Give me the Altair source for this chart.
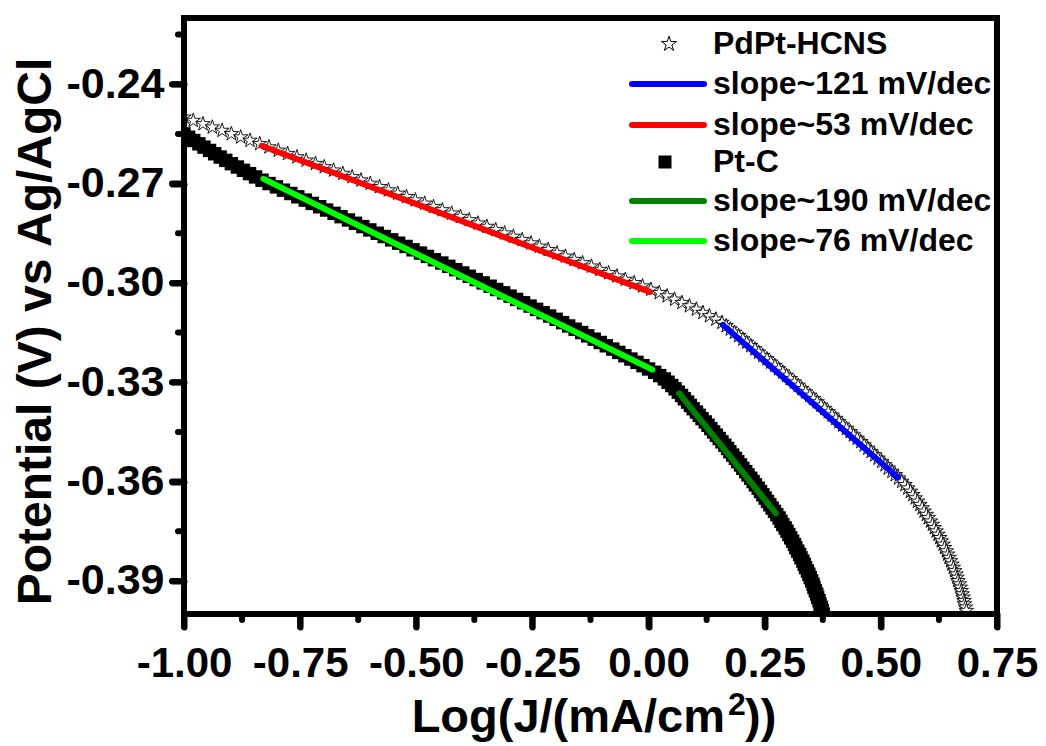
import altair as alt
import pandas as pd

# ---------------- data ----------------
# PdPt-HCNS polarisation curve: potential (mV vs Ag/AgCl) and log J
PDPT_E_MV = [
    -250, -251, -252, -253, -254, -255, -256, -257, -258, -259,
    -260, -261, -262, -263, -264, -265, -266, -267, -268, -269,
    -270, -271, -272, -273, -274, -275, -276, -277, -278, -279,
    -280, -281, -282, -283, -284, -285, -286, -287, -288, -289,
    -290, -291, -292, -293, -294, -295, -296, -297, -298, -299,
    -300, -301, -302, -303, -304, -305, -306, -307, -308, -309,
    -310, -311, -312, -313, -314, -315, -316, -317, -318, -319,
    -320, -321, -322, -323, -324, -325, -326, -327, -328, -329,
    -330, -331, -332, -333, -334, -335, -336, -337, -338, -339,
    -340, -341, -342, -343, -344, -345, -346, -347, -348, -349,
    -350, -351, -352, -353, -354, -355, -356, -357, -358, -359,
    -360, -361, -362, -363, -364, -365, -366, -367, -368, -369,
    -370, -371, -372, -373, -374, -375, -376, -377, -378, -379,
    -380, -381, -382, -383, -384, -385, -386, -387, -388, -389,
    -390, -391, -392, -393, -394, -395, -396, -397, -398, -399,
]
PDPT_LOGJ = [
    -1.000, -0.980, -0.959, -0.939, -0.918, -0.898, -0.878, -0.858, -0.837, -0.817,
    -0.797, -0.777, -0.757, -0.737, -0.717, -0.698, -0.678, -0.658, -0.638, -0.619,
    -0.599, -0.579, -0.560, -0.540, -0.521, -0.502, -0.482, -0.463, -0.444, -0.424,
    -0.405, -0.386, -0.367, -0.348, -0.329, -0.310, -0.291, -0.272, -0.253, -0.235,
    -0.216, -0.197, -0.179, -0.160, -0.142, -0.123, -0.105, -0.086, -0.068, -0.050,
    -0.031, -0.013, 0.005, 0.023, 0.040, 0.056, 0.072, 0.088, 0.103, 0.117,
    0.131, 0.145, 0.158, 0.167, 0.176, 0.185, 0.194, 0.203, 0.211, 0.220,
    0.229, 0.237, 0.246, 0.255, 0.263, 0.272, 0.280, 0.289, 0.297, 0.305,
    0.314, 0.322, 0.330, 0.338, 0.347, 0.355, 0.363, 0.371, 0.379, 0.387,
    0.395, 0.403, 0.410, 0.418, 0.426, 0.434, 0.441, 0.449, 0.457, 0.464,
    0.472, 0.479, 0.487, 0.494, 0.502, 0.509, 0.516, 0.524, 0.531, 0.538,
    0.545, 0.552, 0.558, 0.564, 0.569, 0.574, 0.579, 0.584, 0.589, 0.593,
    0.598, 0.602, 0.607, 0.611, 0.615, 0.619, 0.623, 0.627, 0.630, 0.634,
    0.637, 0.641, 0.644, 0.647, 0.650, 0.653, 0.656, 0.659, 0.662, 0.664,
    0.666, 0.669, 0.671, 0.673, 0.675, 0.677, 0.679, 0.680, 0.682, 0.684,
]

# Pt-C polarisation curve
PTC_E_MV = [
    -255, -256, -257, -258, -259, -260, -261, -262, -263, -264,
    -265, -266, -267, -268, -269, -270, -271, -272, -273, -274,
    -275, -276, -277, -278, -279, -280, -281, -282, -283, -284,
    -285, -286, -287, -288, -289, -290, -291, -292, -293, -294,
    -295, -296, -297, -298, -299, -300, -301, -302, -303, -304,
    -305, -306, -307, -308, -309, -310, -311, -312, -313, -314,
    -315, -316, -317, -318, -319, -320, -321, -322, -323, -324,
    -325, -326, -327, -328, -329, -330, -331, -332, -333, -334,
    -335, -336, -337, -338, -339, -340, -341, -342, -343, -344,
    -345, -346, -347, -348, -349, -350, -351, -352, -353, -354,
    -355, -356, -357, -358, -359, -360, -361, -362, -363, -364,
    -365, -366, -367, -368, -369, -370, -371, -372, -373, -374,
    -375, -376, -377, -378, -379, -380, -381, -382, -383, -384,
    -385, -386, -387, -388, -389, -390, -391, -392, -393, -394,
    -395, -396, -397, -398, -399, -400,
]
PTC_LOGJ = [
    -1.000, -0.990, -0.979, -0.968, -0.957, -0.945, -0.934, -0.922, -0.910, -0.898,
    -0.885, -0.872, -0.859, -0.846, -0.832, -0.817, -0.801, -0.786, -0.770, -0.755,
    -0.739, -0.724, -0.708, -0.693, -0.677, -0.662, -0.646, -0.631, -0.615, -0.600,
    -0.584, -0.569, -0.553, -0.538, -0.522, -0.507, -0.491, -0.476, -0.461, -0.445,
    -0.430, -0.415, -0.400, -0.386, -0.371, -0.356, -0.341, -0.327, -0.312, -0.298,
    -0.284, -0.269, -0.255, -0.241, -0.227, -0.213, -0.199, -0.185, -0.172, -0.158,
    -0.144, -0.131, -0.117, -0.104, -0.091, -0.077, -0.064, -0.051, -0.038, -0.025,
    -0.012, 0.000, 0.013, 0.024, 0.034, 0.042, 0.050, 0.057, 0.064, 0.071,
    0.077, 0.084, 0.090, 0.096, 0.103, 0.109, 0.115, 0.122, 0.128, 0.134,
    0.140, 0.146, 0.152, 0.158, 0.164, 0.170, 0.175, 0.181, 0.187, 0.192,
    0.198, 0.203, 0.209, 0.214, 0.220, 0.225, 0.230, 0.236, 0.241, 0.246,
    0.251, 0.256, 0.261, 0.266, 0.271, 0.276, 0.281, 0.285, 0.289, 0.294,
    0.298, 0.302, 0.306, 0.310, 0.314, 0.317, 0.321, 0.325, 0.328, 0.332,
    0.335, 0.338, 0.342, 0.345, 0.348, 0.351, 0.354, 0.356, 0.359, 0.362,
    0.364, 0.367, 0.369, 0.372, 0.374, 0.376,
]

# Tafel fit segments
FIT_LABELS = ["slope~121 mV/dec", "slope~53 mV/dec", "slope~190 mV/dec", "slope~76 mV/dec"]
FIT_LOGJ_START = [0.160, -0.833, 0.066, -0.829]
FIT_LOGJ_END = [0.537, 0.003, 0.274, 0.008]
FIT_E_START = [-0.3127, -0.2586, -0.3334, -0.2686]
FIT_E_END = [-0.3588, -0.3027, -0.3696, -0.3262]
FIT_COLORS = ["#0000ff", "#ff0000", "#008000", "#00ff00"]

X_TICKS = [-1.0, -0.75, -0.5, -0.25, 0.0, 0.25, 0.5, 0.75]
X_MINOR = [-0.875, -0.625, -0.375, -0.125, 0.125, 0.375, 0.625]
Y_TICKS = [-0.39, -0.36, -0.33, -0.30, -0.27, -0.24]
Y_MINOR = [-0.375, -0.345, -0.315, -0.285, -0.255, -0.225]

LEGEND_LABELS = ["PdPt-HCNS", "slope~121 mV/dec", "slope~53 mV/dec",
                 "Pt-C", "slope~190 mV/dec", "slope~76 mV/dec"]
LEGEND_KINDS = ["star", "line", "line", "square", "line", "line"]
LEGEND_COLORS = ["black", "#0000ff", "#ff0000", "black", "#008000", "#00ff00"]

X_TITLE_MAIN = "Log(J/(mA/cm"
X_TITLE_SUP = "2"
X_TITLE_END = "))"
Y_TITLE = "Potential (V) vs Ag/AgCl"

# ---------------- layout / style ----------------
W, H = 813, 596
FONT = "Liberation Sans"
STAR = ("M0,-1L0.225,-0.309L0.951,-0.309L0.363,0.118L0.588,0.809L0,0.382"
        "L-0.588,0.809L-0.363,0.118L-0.951,-0.309L-0.225,-0.309Z")
LEG_ROWS = [26, 66, 107, 144, 183, 223]

pdpt = pd.DataFrame({"logJ": PDPT_LOGJ, "E": [v / 1000 for v in PDPT_E_MV]})
ptc = pd.DataFrame({"logJ": PTC_LOGJ, "E": [v / 1000 for v in PTC_E_MV]})
fits = pd.DataFrame({"fit": FIT_LABELS, "logJ": FIT_LOGJ_START, "logJ2": FIT_LOGJ_END,
                     "E": FIT_E_START, "E2": FIT_E_END})
one = pd.DataFrame({"k": [0]})

xscale = alt.Scale(domain=[-1.0, 0.75], nice=False, zero=False)
yscale = alt.Scale(domain=[-0.40, -0.22], nice=False, zero=False)
label_expr = "(datum.value < 0 ? '-' : '') + format(abs(datum.value), '.2f')"

x_axis = alt.Axis(values=X_TICKS, labelExpr=label_expr, title="", domain=False, grid=False,
                  tickSize=13, tickWidth=6, tickColor="black", tickCap="round",
                  labelFont=FONT, labelFontSize=42, labelFontWeight="bold", labelColor="black",
                  labelPadding=16, labelFlush=False, labelOverlap=False)
y_axis = alt.Axis(values=Y_TICKS, labelExpr=label_expr, title=Y_TITLE,
                  titleFont=FONT, titleFontSize=48, titleFontWeight="bold", titleColor="black",
                  titleX=-134, titleY=313, titleAngle=270, titleAlign="center",
                  titleBaseline="alphabetic",
                  domain=False, grid=False,
                  tickSize=12, tickWidth=6, tickColor="black", tickCap="round",
                  labelFont=FONT, labelFontSize=43, labelFontWeight="bold", labelColor="black",
                  labelPadding=8, labelFlush=False, labelOverlap=False)

X_ENC = alt.X("logJ:Q", scale=xscale, axis=x_axis, title="")
Y_ENC = alt.Y("E:Q", scale=yscale, axis=y_axis, title=Y_TITLE)

squares = alt.Chart(ptc).mark_point(shape="square", filled=True, color="black", size=180,
                                    opacity=1, strokeWidth=0, clip=True).encode(x=X_ENC, y=Y_ENC)
stars = alt.Chart(pdpt).mark_point(shape=STAR, filled=True, fill="white", stroke="black",
                                   strokeWidth=0.9, size=230, opacity=1, clip=True).encode(
    x=X_ENC, y=Y_ENC)
fit_lines = alt.Chart(fits).mark_rule(strokeWidth=6, strokeCap="round").encode(
    x=X_ENC, x2="logJ2:Q",
    y=Y_ENC, y2="E2:Q",
    color=alt.Color("fit:N", scale=alt.Scale(domain=FIT_LABELS, range=FIT_COLORS), legend=None),
)
tick_style = dict(color="black", strokeWidth=6, strokeCap="round")
x_major = alt.Chart(pd.DataFrame({"logJ": X_TICKS})).mark_rule(**tick_style).encode(
    x=X_ENC, y=alt.value(H), y2=alt.value(H + 13))
x_minor = alt.Chart(pd.DataFrame({"logJ": X_MINOR})).mark_rule(**tick_style).encode(
    x=X_ENC, y=alt.value(H), y2=alt.value(H + 6))
y_major = alt.Chart(pd.DataFrame({"E": Y_TICKS})).mark_rule(**tick_style).encode(
    y=Y_ENC, x=alt.value(0), x2=alt.value(-12))
y_minor = alt.Chart(pd.DataFrame({"E": Y_MINOR})).mark_rule(**tick_style).encode(
    y=Y_ENC, x=alt.value(0), x2=alt.value(-6))
frame = alt.Chart(one).mark_rect(filled=False, color="black", strokeWidth=6).encode(
    x=alt.value(0), x2=alt.value(W), y=alt.value(0), y2=alt.value(H))

title_style = dict(font=FONT, fontWeight="bold", color="black", baseline="alphabetic")
xt1 = alt.Chart(one).mark_text(text=X_TITLE_MAIN, fontSize=47, align="right", **title_style).encode(
    x=alt.value(541), y=alt.value(714))
xt2 = alt.Chart(one).mark_text(text=X_TITLE_SUP, fontSize=32, align="left", **title_style).encode(
    x=alt.value(544), y=alt.value(697))
xt3 = alt.Chart(one).mark_text(text=X_TITLE_END, fontSize=47, align="left", **title_style).encode(
    x=alt.value(561), y=alt.value(714))

legend_layers = []
for lab, kind, col, row in zip(LEGEND_LABELS, LEGEND_KINDS, LEGEND_COLORS, LEG_ROWS):
    if kind == "line":
        legend_layers.append(alt.Chart(one).mark_rule(color=col, strokeWidth=6, strokeCap="round").encode(
            x=alt.value(448), x2=alt.value(520), y=alt.value(row)))
    elif kind == "star":
        legend_layers.append(alt.Chart(one).mark_point(shape=STAR, filled=True, fill="white",
                                                       stroke="black", strokeWidth=1, size=250,
                                                       opacity=1).encode(
            x=alt.value(485), y=alt.value(row)))
    else:
        legend_layers.append(alt.Chart(one).mark_point(shape="square", filled=True, color="black",
                                                       size=169, opacity=1, strokeWidth=0).encode(
            x=alt.value(481), y=alt.value(row)))
    legend_layers.append(alt.Chart(one).mark_text(text=lab, fontSize=32, align="left",
                                                  font=FONT, fontWeight="bold", color="black",
                                                  baseline="alphabetic").encode(
        x=alt.value(529), y=alt.value(row + 10)))

chart = alt.layer(squares, stars, fit_lines, x_major, x_minor, y_major, y_minor, frame,
                  xt1, xt2, xt3, *legend_layers).properties(
    width=W, height=H,
    autosize=alt.AutoSizeParams(type="none"),
    padding={"left": 176, "top": 10, "right": 41, "bottom": 132},
).configure_view(strokeWidth=0).configure(background="white")

chart.save("out.html", embed_options={"renderer": "svg", "actions": False})
